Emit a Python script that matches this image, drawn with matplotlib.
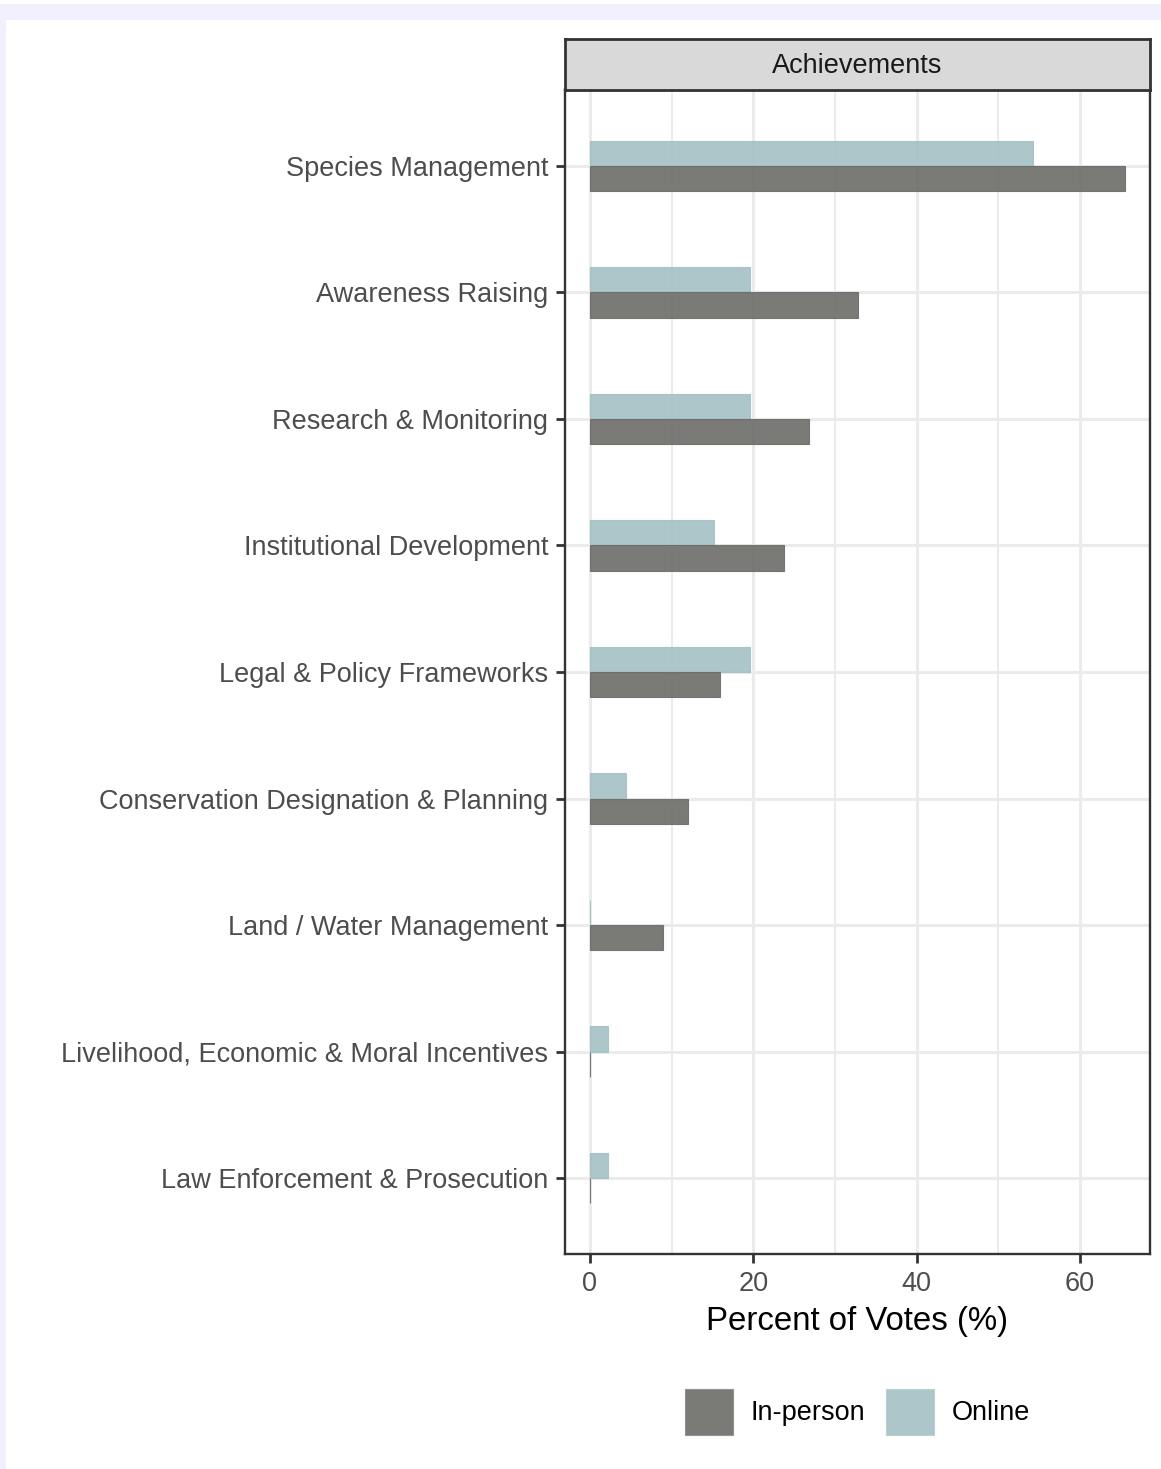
import matplotlib
matplotlib.use("Agg")
import matplotlib.pyplot as plt
from matplotlib.patches import Rectangle, Patch
import numpy as np

plt.rcParams["font.family"] = ["Liberation Sans", "DejaVu Sans"]

# --- Data ---
categories = [
    "Species Management",
    "Awareness Raising",
    "Research & Monitoring",
    "Institutional Development",
    "Legal & Policy Frameworks",
    "Conservation Designation & Planning",
    "Land / Water Management",
    "Livelihood, Economic & Moral Incentives",
    "Law Enforcement & Prosecution",
]
in_person = [65.5, 32.8, 26.8, 23.7, 15.9, 12.0, 8.9, 0.0, 0.0]
online = [54.3, 19.6, 19.6, 15.2, 19.6, 4.4, 0.0, 2.2, 2.2]
xticks = [0, 20, 40, 60]
series_names = ["In-person", "Online"]

COLOR_INPERSON = "#6c6c67"
COLOR_ONLINE = "#a4c0c5"
ALPHA = 0.9
FS = 19.5

W, H = 1161, 1469
fig = plt.figure(figsize=(W / 100, H / 100), dpi=100, facecolor="white")

# lavender frame along top and left edges
frame = "#f2f0fd"
fig.patches.append(Rectangle((0, 1 - 20 / H), 1, 16 / H, transform=fig.transFigure,
                             facecolor=frame, edgecolor="none", zorder=0))
fig.patches.append(Rectangle((0, 0), 6 / W, 1 - 4 / H, transform=fig.transFigure,
                             facecolor=frame, edgecolor="none", zorder=0))

ax_l, ax_r = 565 / W, 1150 / W
ax_t, ax_b = 1 - 90 / H, 1 - 1254 / H
ax = fig.add_axes([ax_l, ax_b, ax_r - ax_l, ax_t - ax_b])

y = np.arange(len(categories))
h = 0.2
ax.barh(y - h / 2, online, height=h, color=COLOR_ONLINE, alpha=ALPHA,
        edgecolor=COLOR_ONLINE, linewidth=0.8, zorder=2)
ax.barh(y + h / 2, in_person, height=h, color=COLOR_INPERSON, alpha=ALPHA,
        edgecolor=COLOR_INPERSON, linewidth=0.8, zorder=2)

ax.set_xlim(-3.06, 68.57)
ax.set_ylim(len(categories) - 1 + 0.6, -0.6)
ax.set_xticks(xticks)
ax.set_xticks([10, 30, 50], minor=True)
ax.set_yticks(y)
ax.set_yticklabels(categories)

ax.grid(True, which="major", color="#ebebeb", linewidth=2.2, zorder=0)
ax.grid(True, which="minor", axis="x", color="#ebebeb", linewidth=1.4, zorder=0)
ax.set_axisbelow(True)

ax.tick_params(axis="both", which="major", length=6.5, width=2, color="#333333",
               labelsize=FS, labelcolor="#4d4d4d", pad=5.5)
ax.tick_params(axis="x", which="minor", length=0)
for s in ax.spines.values():
    s.set_color("#333333")
    s.set_linewidth(1.7)

ax.set_xlabel("Percent of Votes (%)", fontsize=23.8, color="black", labelpad=7)

# facet strip
st_b = 1 - 90 / H
st_t = 1 - 39 / H
strip = fig.add_axes([ax_l, st_b, ax_r - ax_l, st_t - st_b])
strip.set_facecolor("#d9d9d9")
strip.set_xticks([])
strip.set_yticks([])
for s in strip.spines.values():
    s.set_color("#333333")
    s.set_linewidth(2.0)
strip.text(0.5, 0.47, "Achievements", ha="center", va="center", fontsize=FS,
           color="#1a1a1a", transform=strip.transAxes)

# legend
handles = [
    Patch(facecolor=COLOR_INPERSON, alpha=ALPHA, edgecolor="white", label=series_names[0]),
    Patch(facecolor=COLOR_ONLINE, alpha=ALPHA, edgecolor="white", label=series_names[1]),
]
fig.legend(handles=handles, loc="center", bbox_to_anchor=(857 / W, 1 - 1412 / H),
           ncol=2, frameon=False, fontsize=FS, handlelength=1.85, handleheight=2.38,
           handletextpad=0.6, columnspacing=0.75, borderpad=0)

fig.savefig("out.png", dpi=100, facecolor="white")
